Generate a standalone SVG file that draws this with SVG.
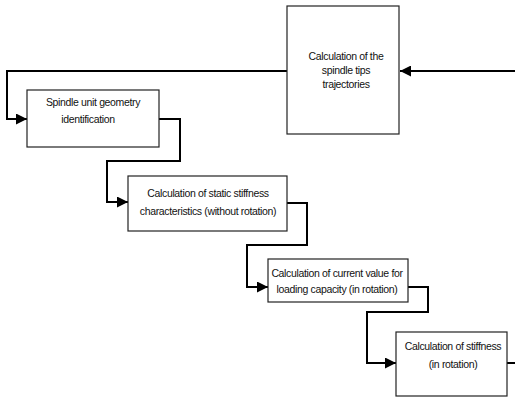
<svg xmlns="http://www.w3.org/2000/svg" width="515" height="399" viewBox="0 0 515 399">
<style>
.box{fill:#fff;stroke:#222;stroke-width:1.2}
.lbl{font-family:"Liberation Sans",Arial,sans-serif;font-size:10.5px;fill:#111;text-anchor:middle;letter-spacing:-0.35px}
.con{fill:none;stroke:#000;stroke-width:2}
</style>
<defs>
<marker id="arr" viewBox="0 0 10 10" refX="10" refY="5" markerWidth="5.5" markerHeight="5.5" markerUnits="strokeWidth" orient="auto">
<path d="M0,0 L10,5 L0,10 z" fill="#000"/>
</marker>
</defs>
<rect width="515" height="399" fill="#fff"/>
<g id="connectors">
<path class="con" d="M515,71 H400" marker-end="url(#arr)"/>
<path class="con" d="M287,71 H7 V119 H27" marker-end="url(#arr)"/>
<path class="con" d="M159,119 H180 V161 H107 V202 H128" marker-end="url(#arr)"/>
<path class="con" d="M287,203 H307 V245 H247 V287 H268" marker-end="url(#arr)"/>
<path class="con" d="M408,287 H428 V312 H367 V363 H396" marker-end="url(#arr)"/>
<path class="con" d="M507,363 H515"/>
</g>
<g id="node-trajectories">
<rect class="box" x="287" y="6" width="112" height="128"/>
<text class="lbl" x="346" y="60">Calculation of the</text>
<text class="lbl" x="346" y="74">spindle tips</text>
<text class="lbl" x="346" y="88">trajectories</text>
</g>
<g id="node-geometry">
<rect class="box" x="27" y="90" width="132" height="57"/>
<text class="lbl" x="93" y="106">Spindle unit geometry</text>
<text class="lbl" x="88" y="123">identification</text>
</g>
<g id="node-static">
<rect class="box" x="128" y="176" width="159" height="55"/>
<text class="lbl" x="208" y="197">Calculation of static stiffness</text>
<text class="lbl" x="208" y="215">characteristics (without rotation)</text>
</g>
<g id="node-capacity">
<rect class="box" x="268" y="259" width="140" height="43"/>
<text class="lbl" x="337" y="277">Calculation of current value for</text>
<text class="lbl" x="337" y="293">loading capacity (in rotation)</text>
</g>
<g id="node-stiffness">
<rect class="box" x="396" y="332" width="111" height="64"/>
<text class="lbl" x="453" y="350">Calculation of stiffness</text>
<text class="lbl" x="453" y="368">(in rotation)</text>
</g>
</svg>
